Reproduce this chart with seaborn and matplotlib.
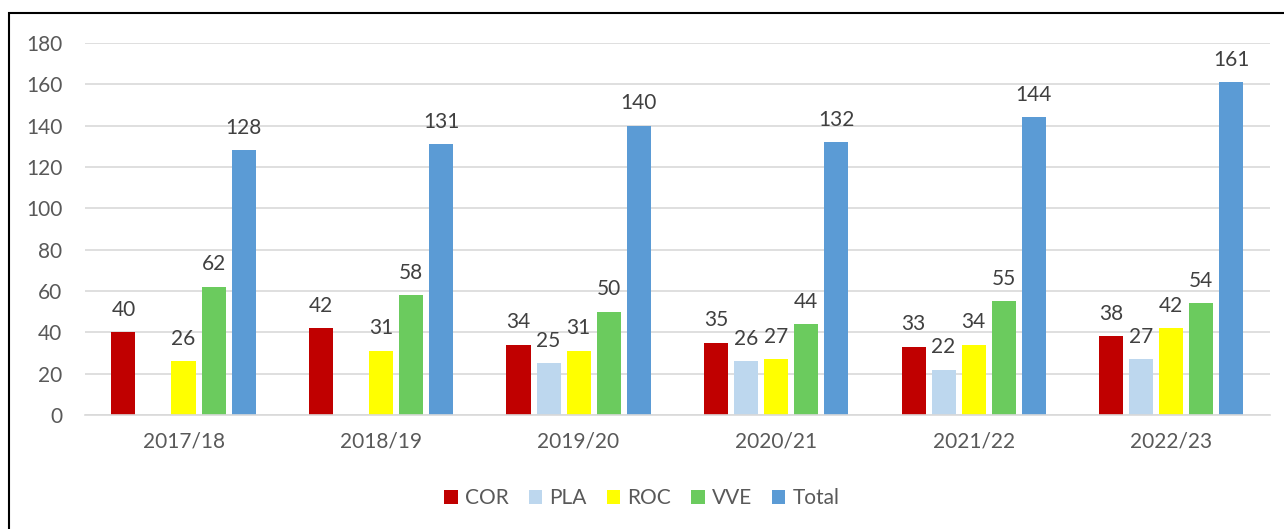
import matplotlib.pyplot as plt
import seaborn as sns
import pandas as pd
import numpy as np
from matplotlib.patches import Rectangle

seasons = ["2017/18", "2018/19", "2019/20", "2020/21", "2021/22", "2022/23"]
cor = [40, 42, 34, 35, 33, 38]
pla = [np.nan, np.nan, 25, 26, 22, 27]
roc = [26, 31, 31, 27, 34, 42]
vve = [62, 58, 50, 44, 55, 54]
total = [128, 131, 140, 132, 144, 161]

series = {"COR": cor, "PLA": pla, "ROC": roc, "VVE": vve, "Total": total}
colors = ["#C00000", "#BDD7EE", "#FFFF00", "#6BCB5E", "#5B9BD5"]

rows = []
for name, vals in series.items():
    for s, v in zip(seasons, vals):
        rows.append({"season": s, "serie": name, "value": v})
df = pd.DataFrame(rows)

sns.set_theme(style="white")
plt.rcParams['font.family'] = ['Lato', 'DejaVu Sans']
txt = "#595959"
fs = 15

fig = plt.figure(figsize=(12.84, 5.29), dpi=100)
ax = fig.add_axes([0.066, 0.2155, 0.923, 0.7032])

sns.barplot(data=df, x="season", y="value", hue="serie", palette=colors,
            width=0.76, gap=0.2, ax=ax, saturation=1, legend=True, linewidth=0)

# value labels above each bar (missing values are simply not drawn)
for cont in ax.containers:
    for bar in cont:
        if bar is None:
            continue
        h = bar.get_height()
        if np.isnan(h):
            continue
        ax.annotate(str(int(round(h))), (bar.get_x() + bar.get_width() / 2, h),
                    xytext=(0, 9), textcoords="offset points", ha="center",
                    va="bottom", fontsize=fs, color="#404040")

ax.set_ylim(0, 180)
ax.set_yticks(range(0, 181, 20))
ax.yaxis.grid(True, color="#D9D9D9", linewidth=1.2)
ax.set_axisbelow(True)
for sp in ["top", "right", "left"]:
    ax.spines[sp].set_visible(False)
ax.spines["bottom"].set_color("#D9D9D9")
ax.spines["bottom"].set_linewidth(1.2)
ax.tick_params(axis="y", labelsize=fs, colors=txt, length=0, pad=16)
ax.tick_params(axis="x", labelsize=fs, colors=txt, length=0, pad=12)
ax.set_xlabel("")
ax.set_ylabel("")

ax.legend(loc="center", bbox_to_anchor=(0.5, 0.058), bbox_transform=fig.transFigure,
          ncol=5, frameon=False, fontsize=fs, handlelength=0.65, handleheight=0.65,
          handletextpad=0.35, columnspacing=0.95, labelcolor=txt)

fig.add_artist(Rectangle((0.007, -0.01), 1.0, 0.985, transform=fig.transFigure,
                         fill=False, edgecolor="black", linewidth=1.5))

fig.savefig("out.png", dpi=100)
